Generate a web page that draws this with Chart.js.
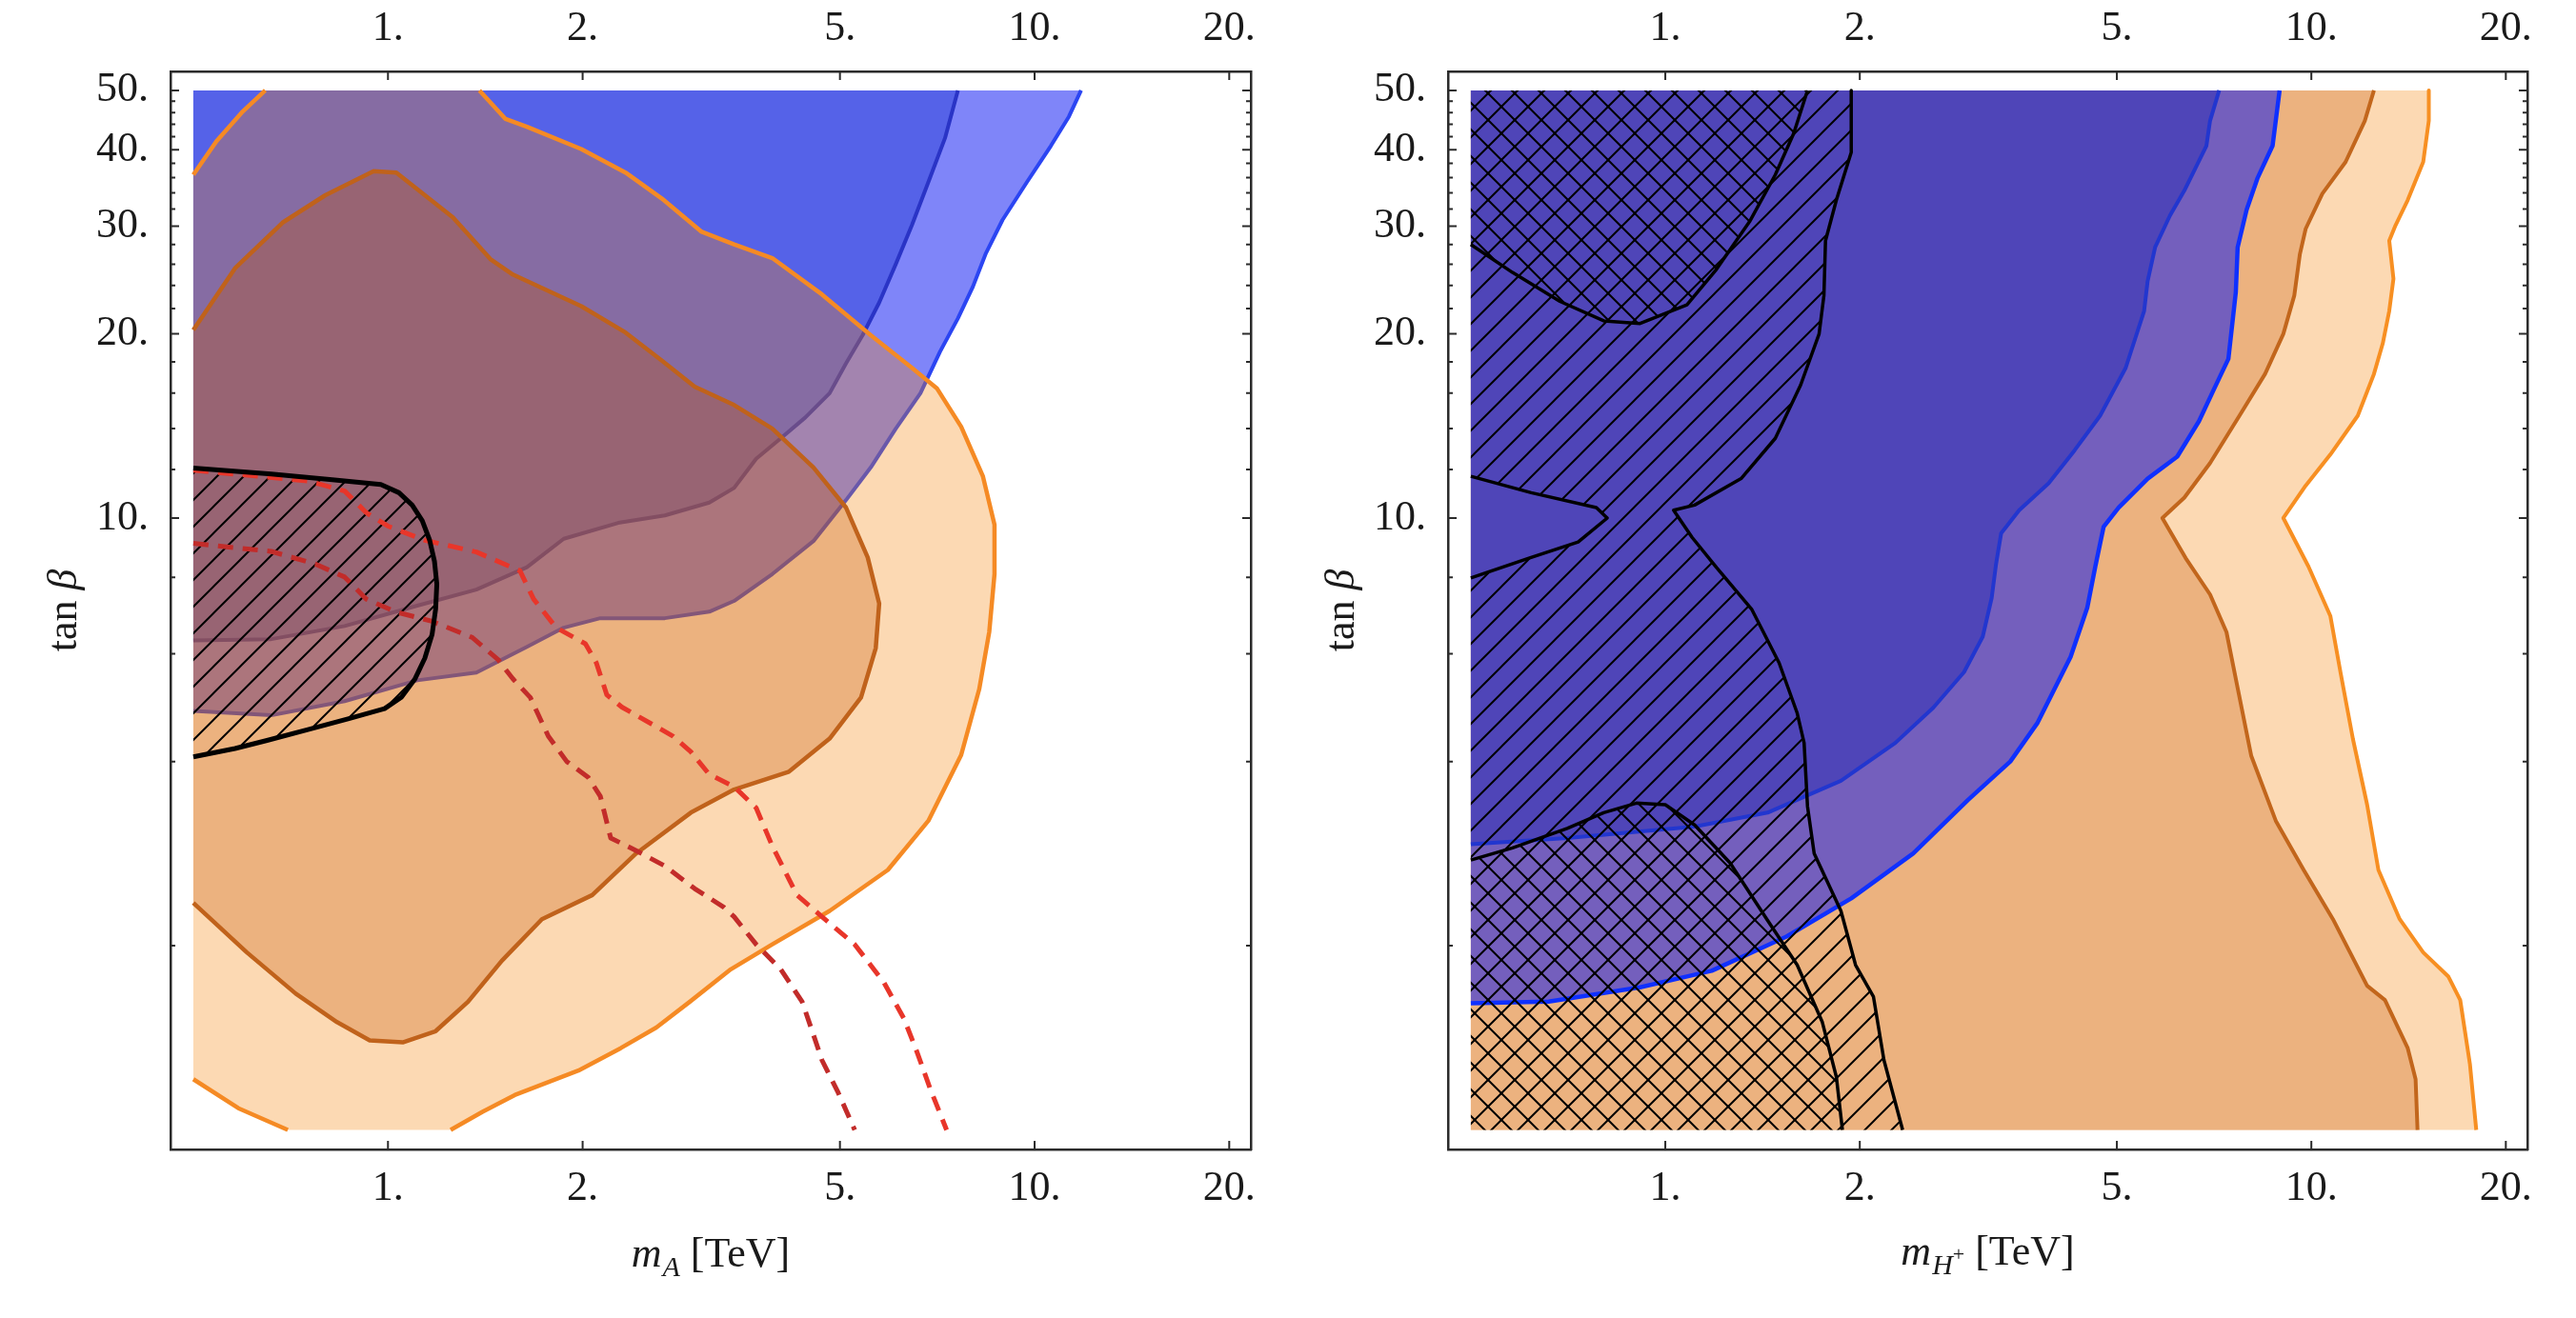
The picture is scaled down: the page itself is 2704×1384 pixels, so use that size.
<!DOCTYPE html>
<html>
<head>
<meta charset="utf-8">
<script src="https://cdn.jsdelivr.net/npm/chart.js@4.4.1/dist/chart.umd.min.js"></script>
<style>
  html, body { margin: 0; padding: 0; background: #fff; }
  #wrap { position: relative; width: 2704px; height: 1384px; }
  canvas { position: absolute; top: 0; }
</style>
</head>
<body>
<div id="wrap">
  <canvas id="chartA" width="1352" height="1384" style="left:0"></canvas>
  <canvas id="chartH" width="1352" height="1384" style="left:1352px"></canvas>
</div>
<script>
// axes (both panels share them)
const xTicks = [1, 2, 5, 10, 20];
const yTicks = [10, 20, 30, 40, 50];
const yMinor = [2, 4, 6, 8, 12, 14, 16, 18, 22, 24, 26, 28, 32, 34, 36, 38, 42, 44, 46, 48];
const xRange = [0.461, 21.6];
const yRange = [0.929, 53.7];

// ---- left panel: m_A vs tan beta ----
const aBlueOuter = [[0.5,4.84],[0.66,4.76],[0.857,5.02],[1.11,5.43],[1.37,5.59],[1.64,6.16],[1.87,6.62],[2.13,6.86],[2.68,6.86],[3.14,7.03],[3.43,7.32],[3.93,8.1],[4.55,9.17],[5.11,10.7],[5.58,12.1],[6.1,14.0],[6.66,16.0],[7.14,18.7],[7.61,21.2],[8.03,23.9],[8.41,27.1],[8.92,30.7],[9.73,35.4],[10.6,40.6],[11.3,45.3],[11.8,50]];
const aBlueInner = [[0.5,6.31],[0.66,6.34],[0.857,6.66],[1.11,7.19],[1.37,7.64],[1.64,8.31],[1.87,9.25],[2.27,9.82],[2.68,10.1],[3.14,10.6],[3.43,11.2],[3.71,12.5],[4.05,13.5],[4.42,14.6],[4.82,16.0],[5.11,17.9],[5.42,19.9],[5.75,22.5],[6.1,26.0],[6.46,30.1],[6.85,35.4],[7.27,41.8],[7.61,50]];
const aOrangeLow = [[0.5,1.21],[0.587,1.085],[0.7,1.0]];
const aOrangeMain = [[1.25,1.0],[1.4,1.07],[1.57,1.14],[1.97,1.25],[2.29,1.36],[2.6,1.47],[2.93,1.62],[3.39,1.83],[3.93,2.01],[4.82,2.28],[5.93,2.66],[6.85,3.2],[7.7,4.1],[8.21,5.25],[8.51,6.52],[8.67,8.1],[8.67,9.75],[8.32,11.7],[7.7,14.1],[7.06,16.3],[6.46,17.6],[5.58,19.9],[4.69,23.2],[3.93,26.6],[3.43,28.0],[3.05,29.4],[2.65,33.3],[2.33,36.7],[1.99,40.1],[1.64,43.6],[1.52,44.9],[1.385,50]];
const aOrangeTop = [[0.646,50],[0.594,46.0],[0.543,41.3],[0.5,36.4]];
const aOrangeInner = [[0.5,20.3],[0.58,25.6],[0.687,30.4],[0.8,33.7],[0.95,36.9],[1.03,36.7],[1.26,31.0],[1.44,26.5],[1.56,25.0],[1.99,22.2],[2.33,20.1],[2.65,18.1],[2.98,16.4],[3.43,15.3],[3.93,14.0],[4.55,12.1],[5.11,10.4],[5.52,8.62],[5.75,7.25],[5.68,6.13],[5.39,5.09],[4.82,4.36],[4.17,3.85],[3.43,3.6],[2.94,3.3],[2.42,2.83],[2.07,2.42],[1.73,2.21],[1.5,1.89],[1.33,1.62],[1.185,1.45],[1.054,1.39],[0.937,1.4],[0.834,1.5],[0.72,1.67],[0.605,1.95],[0.5,2.35]];
const aExcluded = [[0.5,12.07],[0.66,11.8],[0.82,11.55],[0.975,11.35],[1.04,11.0],[1.09,10.5],[1.13,9.9],[1.16,9.2],[1.18,8.5],[1.19,7.8],[1.185,7.1],[1.17,6.45],[1.14,5.9],[1.1,5.45],[1.05,5.1],[0.988,4.88],[0.87,4.7],[0.752,4.51],[0.65,4.33],[0.58,4.2],[0.5,4.07]];
const aDashUpper = [[0.5,11.97],[0.752,11.5],[0.857,11.07],[0.926,10.2],[1.0,9.7],[1.14,9.2],[1.37,8.8],[1.6,8.2],[1.68,7.37],[1.82,6.62],[2.02,6.23],[2.1,5.8],[2.18,5.14],[2.3,4.91],[2.76,4.4],[2.94,4.15],[3.14,3.81],[3.43,3.64],[3.71,3.36],[3.93,2.91],[4.29,2.42],[4.69,2.23],[5.27,2.01],[5.85,1.74],[6.28,1.52],[6.58,1.34],[6.89,1.17],[7.31,1.0]];
const aDashLower = [[0.5,9.09],[0.66,8.82],[0.772,8.41],[0.857,8.01],[0.926,7.37],[1.03,7.02],[1.17,6.78],[1.35,6.38],[1.48,5.87],[1.56,5.46],[1.66,5.09],[1.77,4.4],[1.89,4.0],[2.04,3.77],[2.13,3.51],[2.21,3.0],[2.42,2.86],[2.68,2.7],[2.98,2.48],[3.31,2.31],[3.43,2.23],[3.71,2.01],[4.05,1.83],[4.37,1.62],[4.55,1.43],[4.69,1.3],[4.97,1.15],[5.27,1.0]];

// ---- right panel: m_H+ vs tan beta ----
const hOrangeOuter = [[15.2,50],[15.2,44.6],[14.9,38.2],[14.1,33.1],[13.5,30.1],[13.2,28.4],[13.4,24.6],[13.2,21.8],[12.9,19.3],[12.5,17.2],[11.8,14.7],[10.7,12.7],[9.8,11.3],[9.05,10.0],[9.9,8.33],[10.7,6.92],[11.1,5.58],[11.6,4.35],[12.2,3.4],[12.7,2.66],[13.7,2.21],[14.9,1.95],[16.3,1.78],[17.0,1.63],[17.6,1.28],[18.0,1.0]];
const hOrangeInner = [[12.5,50],[12.1,44.6],[11.3,38.2],[10.4,33.9],[9.8,29.7],[9.6,27.0],[9.41,23.1],[9.05,20.0],[8.48,17.2],[7.74,14.7],[6.97,12.3],[6.36,10.8],[5.88,10.0],[6.39,8.6],[6.97,7.5],[7.39,6.51],[7.7,5.24],[8.07,4.09],[8.81,3.2],[9.73,2.66],[10.8,2.21],[12.2,1.72],[13.0,1.63],[14.1,1.36],[14.5,1.21],[14.6,1.0]];
const hBlueOuter = [[0.5,1.61],[0.66,1.62],[0.914,1.71],[1.18,1.82],[1.54,2.07],[1.94,2.39],[2.42,2.83],[2.94,3.46],[3.42,4.0],[3.77,4.63],[4.24,5.93],[4.5,7.14],[4.63,8.33],[4.77,9.68],[5.03,10.4],[5.58,11.6],[6.2,12.6],[6.7,14.4],[7.06,16.2],[7.44,18.2],[7.64,23.4],[7.69,27.7],[7.94,31.9],[8.26,36.0],[8.71,40.6],[8.93,50]];
const hBlueInner = [[0.5,2.93],[0.705,3.0],[1.11,3.13],[1.44,3.3],[1.87,3.72],[2.27,4.29],[2.6,4.9],[2.9,5.6],[3.1,6.4],[3.2,7.4],[3.25,8.4],[3.31,9.44],[3.53,10.3],[3.92,11.4],[4.3,12.9],[4.71,14.7],[5.16,17.6],[5.51,21.8],[5.58,24.4],[5.73,27.7],[6.04,31.2],[6.36,34.3],[6.88,40.6],[6.97,44.6],[7.2,50]];
const hWedge = [[0.5,7.98],[0.615,8.6],[0.733,9.14],[0.813,10.0],[0.782,10.4],[0.62,11.0],[0.5,11.7]];
const hEdgeMain = [[1.94,50],[1.94,39.6],[1.84,33.1],[1.77,28.4],[1.76,23.1],[1.73,20.0],[1.62,16.5],[1.48,13.5],[1.31,11.6],[1.11,10.5],[1.03,10.3],[1.1,9.3],[1.2,8.3],[1.36,7.1],[1.5,5.8],[1.6,4.8],[1.64,4.29],[1.66,3.38],[1.7,2.83],[1.87,2.28],[1.97,1.86],[2.1,1.65],[2.18,1.3],[2.33,1.0]];
const hEdgeTop = [[0.5,28.0],[0.58,25.2],[0.687,22.6],[0.803,21.0],[0.914,20.8],[1.08,22.3],[1.2,25.5],[1.35,30.5],[1.48,36.4],[1.58,42.5],[1.66,50]];
const hEdgeLow = [[0.5,2.76],[0.58,2.89],[0.705,3.11],[0.803,3.3],[0.902,3.42],[1.0,3.4],[1.11,3.15],[1.26,2.73],[1.44,2.2],[1.6,1.86],[1.75,1.5],[1.84,1.22],[1.88,1.0]];

const FRAME = '#2b2b2b';
const SERIF = '"Liberation Serif", "Times New Roman", serif';

function pts(list) { return list.map(p => ({ x: p[0], y: p[1] })); }

function hatch(forward) {
  const s = 28;
  const c = document.createElement('canvas');
  c.width = s; c.height = s;
  const g = c.getContext('2d');
  g.strokeStyle = '#000';
  g.lineWidth = 2;
  g.beginPath();
  if (forward) {
    g.moveTo(-3, s + 3); g.lineTo(s + 3, -3);
    g.moveTo(-3, 3); g.lineTo(3, -3);
    g.moveTo(s - 3, s + 3); g.lineTo(s + 3, s - 3);
  } else {
    g.moveTo(-3, -3); g.lineTo(s + 3, s + 3);
    g.moveTo(s - 3, -3); g.lineTo(s + 3, 3);
    g.moveTo(-3, s - 3); g.lineTo(3, s + 3);
  }
  g.stroke();
  return g.createPattern(c, 'repeat');
}
const hatchFwd = hatch(true);
const hatchBack = hatch(false);

function area(list, color) {
  return { data: pts(list), fill: 'shape', backgroundColor: color, borderWidth: 0, pointRadius: 0 };
}
function curve(list, color, width, dash) {
  return { data: pts(list), fill: false, borderColor: color, borderWidth: width,
           borderDash: dash || [], pointRadius: 0, borderJoinStyle: 'round' };
}

// list is bottom layer first; Chart.js draws lower "order" on top
function stack(list) {
  list.forEach((d, i) => { d.order = list.length - i; d.xAxisID = 'x'; d.yAxisID = 'y'; });
  return list;
}

function logAxis(pos, vals, size, labels, pad) {
  const horiz = pos === 'top' || pos === 'bottom';
  return {
    type: 'logarithmic', position: pos, axis: horiz ? 'x' : 'y', bounds: 'data',
    min: horiz ? xRange[0] : yRange[0],
    max: horiz ? xRange[1] : yRange[1],
    grid: { display: false },
    border: { display: true, color: FRAME, width: 2.5 },
    ticks: { display: labels, autoSkip: false, maxRotation: 0, padding: pad, color: '#1a1a1a',
             font: { family: SERIF, size: 44 }, callback: v => v + '.' },
    afterBuildTicks: s => { s.ticks = vals.map(v => ({ value: v })); },
    afterFit: s => { if (horiz) s.height = size; else s.width = size; }
  };
}

// inward frame ticks, like the original plot
const frameTicks = {
  id: 'frameTicks',
  afterDraw(chart) {
    const { ctx, chartArea: a, scales } = chart;
    ctx.save();
    ctx.strokeStyle = FRAME;
    ctx.lineWidth = 2;
    ctx.beginPath();
    xTicks.forEach(v => {
      const px = scales.x.getPixelForValue(v);
      ctx.moveTo(px, a.bottom); ctx.lineTo(px, a.bottom - 9);
      ctx.moveTo(px, a.top); ctx.lineTo(px, a.top + 9);
    });
    yTicks.concat(yMinor).forEach(v => {
      const py = scales.y.getPixelForValue(v);
      const len = yTicks.includes(v) ? 9 : 5;
      ctx.moveTo(a.left, py); ctx.lineTo(a.left + len, py);
      ctx.moveTo(a.right, py); ctx.lineTo(a.right - len, py);
    });
    ctx.stroke();
    ctx.restore();
  }
};

function drawParts(ctx, parts, cx, y) {
  let w = 0;
  parts.forEach(p => { ctx.font = p.font; w += ctx.measureText(p.t).width + (p.kern || 0); });
  let x = cx - w / 2;
  ctx.textBaseline = 'alphabetic';
  ctx.textAlign = 'left';
  parts.forEach(p => {
    ctx.font = p.font;
    ctx.fillText(p.t, x, y + (p.dy || 0));
    x += ctx.measureText(p.t).width + (p.kern || 0);
  });
}

const axisTitles = {
  id: 'axisTitles',
  afterDraw(chart, args, opts) {
    const { ctx, chartArea: a } = chart;
    ctx.save();
    ctx.fillStyle = '#1a1a1a';
    drawParts(ctx, opts.x, (a.left + a.right) / 2, opts.xBase);
    ctx.translate(opts.yBase, (a.top + a.bottom) / 2);
    ctx.rotate(-Math.PI / 2);
    drawParts(ctx, opts.y, 0, 0);
    ctx.restore();
  }
};

const big = '44px ' + SERIF, bigIt = 'italic 44px ' + SERIF;
const tanBeta = [{ t: 'tan ', font: big }, { t: 'β', font: bigIt }];

function makeChart(id, datasets, yLeft, yRight, xParts, xBase, yBase) {
  return new Chart(document.getElementById(id), {
    type: 'line',
    data: { datasets },
    options: {
      responsive: false, animation: false, devicePixelRatio: 1, events: [],
      layout: { padding: 0 },
      scales: {
        x: logAxis('bottom', xTicks, 177, true, 7),
        x2: logAxis('top', xTicks, 75, true, 10),
        y: logAxis('left', yTicks, yLeft, true, 15),
        y2: logAxis('right', yTicks, yRight, false, 0)
      },
      plugins: {
        legend: { display: false }, tooltip: { enabled: false },
        axisTitles: { x: xParts, xBase, y: tanBeta, yBase }
      }
    },
    plugins: [frameTicks, axisTitles]
  });
}

const aDatasets = stack([
  area([[0.5, 50], ...aBlueOuter], '#7f85f9'),
  area([[0.5, 50], ...aBlueInner], '#5562e8'),
  curve(aBlueOuter, '#2b45f2', 4),
  curve(aBlueInner, '#2a34c6', 4),
  area([...aOrangeLow, ...aOrangeMain, ...aOrangeTop], 'rgba(245,132,10,0.31)'),
  area(aOrangeInner, 'rgba(197,83,0,0.29)'),
  curve(aOrangeLow, '#f58a24', 4.5),
  curve(aOrangeMain, '#f58a24', 4.5),
  curve(aOrangeTop, '#f58a24', 4.5),
  curve(aOrangeInner, '#c0621b', 4.5),
  area(aExcluded, hatchFwd),
  curve(aDashUpper, '#e8362a', 5, [16, 10]),
  curve(aDashLower, '#c22c2a', 5, [16, 10]),
  curve(aExcluded, '#000', 5)
]);

const hDatasets = stack([
  area([[0.5, 1], [0.5, 50], ...hOrangeOuter], '#fcd9b3'),
  area([[0.5, 1], [0.5, 50], ...hOrangeInner], '#ecb27f'),
  curve(hOrangeOuter, '#f78f22', 4),
  curve(hOrangeInner, '#c2661c', 4),
  area([[0.5, 50], ...hBlueOuter], '#745fbd'),
  area([[0.5, 50], ...hBlueInner], '#4f45b8'),
  curve(hBlueOuter, '#0f30ff', 4.5),
  curve(hBlueInner, '#2236cf', 4),
  area([[0.5, 1], ...hWedge, [0.5, 50], ...hEdgeMain], hatchFwd),
  area([[0.5, 50], ...hEdgeTop], hatchBack),
  area([[0.5, 1], ...hEdgeLow], hatchBack),
  curve(hWedge, '#000', 3.5),
  curve(hEdgeMain, '#000', 3.5),
  curve(hEdgeTop, '#000', 3.5),
  curve(hEdgeLow, '#000', 3.5)
]);

makeChart('chartA', aDatasets, 179, 39,
  [{ t: 'm', font: bigIt, kern: 1 }, { t: 'A', font: 'italic 30px ' + SERIF, dy: 10 },
   { t: ' [TeV]', font: big }], 1330, 80);

makeChart('chartH', hDatasets, 168, 51,
  [{ t: 'm', font: bigIt, kern: 1 }, { t: 'H', font: 'italic 30px ' + SERIF, dy: 10 },
   { t: '+', font: '22px ' + SERIF, dy: -4 }, { t: ' [TeV]', font: big }], 1328, 69);
</script>
</body>
</html>
